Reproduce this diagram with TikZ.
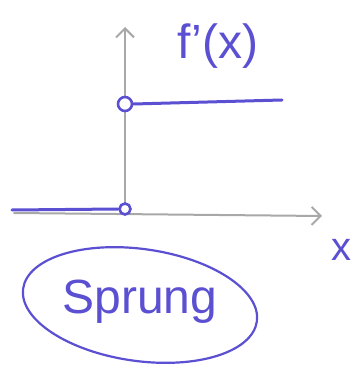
\documentclass[tikz,border=0pt]{standalone}
\usepackage{fontspec}
\setmainfont{Liberation Sans}
\usetikzlibrary{arrows.meta,shapes.geometric}
\definecolor{pen}{HTML}{5B4FD2}
\definecolor{pencil}{HTML}{A8A8A8}
\tikzset{
  axis/.style={draw=pencil, line width=2pt, line cap=round, -{Straight Barb[length=9pt,width=18pt,line width=2pt]}},
  ink/.style={draw=pen, line width=3pt, line cap=round},
  hole/.style={circle, draw=pen, line width=2.6pt, fill=white, inner sep=0pt, minimum size=#1},
  lbl/.style={text=pen, inner sep=0pt}
}
\begin{document}
\begin{tikzpicture}[x=1pt,y=-1pt]
\useasboundingbox (0,0) rectangle (357,366);
\coordinate (o) at (125,211);
\coordinate (ytop) at (125,27);
\coordinate (xend) at (322,216);
\draw[axis] (o) -- (ytop);
\draw[axis] (14,213) coordinate (xs) -- (xend);
\node[hole=14pt] (top) at (125,104) {};
\node[hole=11pt] (bot) at (125,209) {};
\coordinate (l0) at (12,210);
\coordinate (u1) at (282,100);
\draw[ink] (l0) -- (bot.west);
\draw[ink] (top.east) -- (u1);
\node[lbl, font=\fontsize{48}{48}\selectfont] (fx) at (218,46) {f'(x)};
\node[lbl, font=\fontsize{40}{40}\selectfont] (xl) at (341,250) {x};
\node[ellipse, draw=pen, line width=2.2pt, minimum width=236pt, minimum height=112pt, rotate=-8] (sp) at (140,305) {};
\node[lbl, font=\fontsize{48}{48}\selectfont] (spt) at (140,302) {Sprung};
\end{tikzpicture}
\end{document}
